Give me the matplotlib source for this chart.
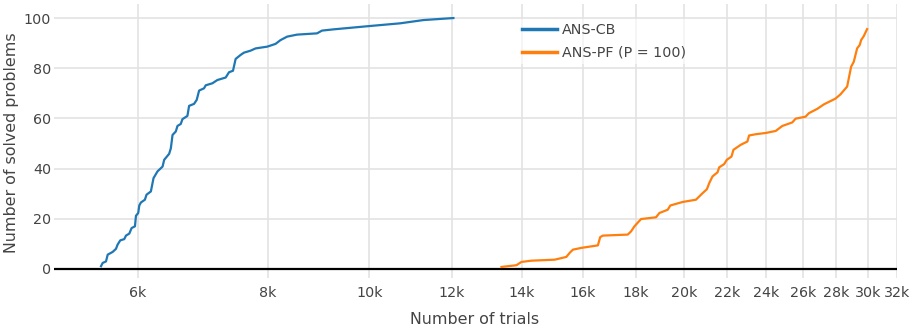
import numpy as np
import matplotlib
matplotlib.use("Agg")
import matplotlib.pyplot as plt
from matplotlib.ticker import FixedLocator, NullLocator

# ANS-CB: number of trials vs. cumulative solved problems
cb_trials = [5535, 5555, 5596, 5617, 5679, 5720, 5741, 5775, 5826, 5848,
             5891, 5921, 5965, 5978, 6008, 6022, 6044, 6097, 6119, 6178,
             6214, 6269, 6339, 6362, 6432, 6456, 6480, 6527, 6551, 6599,
             6623, 6696, 6721, 6795, 6835, 6871, 6946, 6972, 7075, 7153,
             7286, 7339, 7404, 7447, 7529, 7584, 7696, 7782, 7984, 8132,
             8221, 8343, 8528, 8911, 9009, 9243, 9995, 10703, 11266, 12036]
cb_solved = [1.1, 2.4, 3.0, 5.7, 6.8, 8.0, 9.7, 11.4, 11.9, 13.3,
             14.1, 16.3, 17.0, 21.2, 22.3, 25.3, 26.5, 27.6, 29.6, 30.9,
             36.2, 38.9, 40.8, 43.5, 45.9, 48.1, 53.4, 54.8, 57.0, 57.8,
             59.7, 61.0, 65.0, 65.8, 67.4, 71.1, 72.0, 73.2, 74.0, 75.3,
             76.3, 78.4, 79.0, 83.7, 85.3, 86.2, 87.0, 87.9, 88.6, 89.7,
             91.2, 92.6, 93.4, 93.9, 95.0, 95.5, 96.8, 97.9, 99.2, 100.0]

# ANS-PF (P = 100)
pf_trials = [13381, 13830, 13983, 14294, 15046, 15437, 15550, 15664, 15955, 16550,
             16634, 16733, 17677, 17807, 17939, 18203, 18813, 18952, 19302, 19416,
             19949, 20543, 20845, 21046, 21153, 21308, 21543, 21623, 21862, 21989,
             22217, 22315, 22678, 23011, 23096, 23438, 23960, 24490, 24853, 25403,
             25592, 26159, 26353, 26840, 27237, 27944, 28253, 28669, 28922, 29093,
             29306, 29479, 29565, 29740, 29958]
pf_solved = [0.8, 1.5, 2.8, 3.3, 3.7, 4.8, 6.4, 7.7, 8.4, 9.4,
             12.7, 13.3, 13.7, 15.0, 17.0, 19.9, 20.6, 22.3, 23.6, 25.3,
             26.7, 27.6, 30.2, 31.8, 34.2, 36.9, 38.5, 40.5, 41.8, 43.5,
             44.8, 47.5, 49.5, 50.8, 53.2, 53.7, 54.2, 55.0, 57.0, 58.4,
             59.9, 60.7, 62.1, 63.8, 65.6, 67.9, 69.6, 72.7, 80.6, 82.6,
             87.9, 89.3, 91.2, 92.8, 95.6]

x_ticks = [6000, 8000, 10000, 12000, 14000, 16000, 18000, 20000,
           22000, 24000, 26000, 28000, 30000, 32000]
x_tick_labels = ["6k", "8k", "10k", "12k", "14k", "16k", "18k", "20k",
                 "22k", "24k", "26k", "28k", "30k", "32k"]
y_ticks = [0, 20, 40, 60, 80, 100]

text_color = "#444444"
grid_color = "#e3e3e3"

plt.rcParams["font.family"] = ["DejaVu Sans"]

W, H = 915, 333
fig = plt.figure(figsize=(W / 100, H / 100), dpi=100)
ax = fig.add_axes([54 / W, 1 - 278 / H, (897 - 54) / W, (278 - 4) / H])

ax.plot(cb_trials, cb_solved, color="#1f77b4", lw=1.6, label="ANS-CB",
        solid_joinstyle="round", zorder=3)
ax.plot(pf_trials, pf_solved, color="#ff7f0e", lw=1.6, label="ANS-PF (P = 100)",
        solid_joinstyle="round", zorder=3)
ax.axhline(0, color="black", lw=1.6, zorder=2)

ax.set_xscale("log")
ax.set_xlim(4990, 32000)
ax.set_ylim(-3.6, 105.6)
ax.xaxis.set_major_locator(FixedLocator(x_ticks))
ax.xaxis.set_minor_locator(NullLocator())
ax.set_xticklabels(x_tick_labels)
ax.set_yticks(y_ticks)

ax.grid(True, color=grid_color, lw=1.2, zorder=0)
ax.set_axisbelow(True)
for s in ax.spines.values():
    s.set_visible(False)
ax.tick_params(axis="both", length=0, labelsize=10.3, colors=text_color)
ax.tick_params(axis="x", pad=6)
ax.tick_params(axis="y", pad=2)

fig.text(475 / W, 1 - 320 / H, "Number of trials", ha="center", va="center",
         fontsize=11.4, color=text_color)
fig.text(12 / W, 1 - 143 / H, "Number of solved problems", ha="center",
         va="center", rotation=90, fontsize=11.4, color=text_color)

leg = ax.legend(loc="upper left", bbox_to_anchor=(518 / W, 1 - 19 / H),
                bbox_transform=fig.transFigure, fontsize=10.25,
                frameon=True, fancybox=False, framealpha=0.6,
                handlelength=2.45, handletextpad=0.35, labelspacing=0.58,
                borderpad=0.3, borderaxespad=0)
leg.get_frame().set_edgecolor("none")
leg.get_frame().set_facecolor("white")
for t in leg.get_texts():
    t.set_color(text_color)
for l in leg.get_lines():
    l.set_linewidth(2.5)

fig.savefig("out.png", dpi=100)
